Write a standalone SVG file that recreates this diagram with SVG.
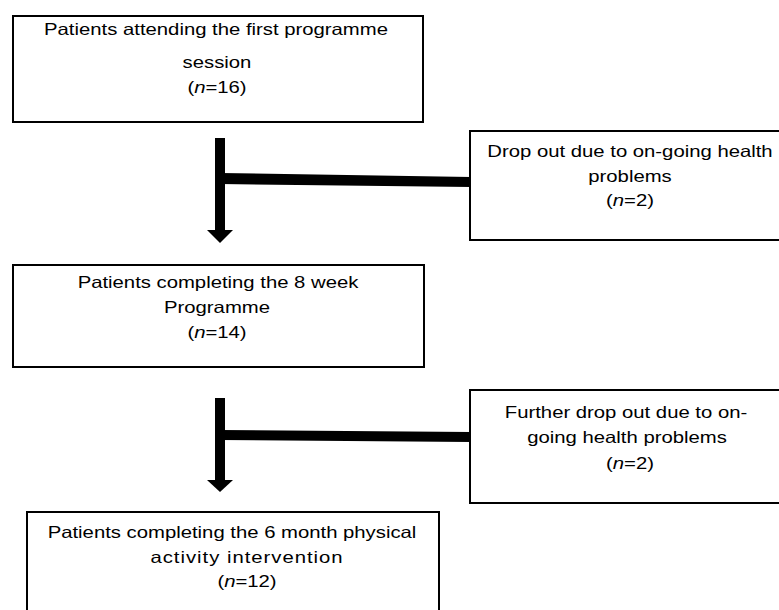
<svg xmlns="http://www.w3.org/2000/svg" width="779" height="610" viewBox="0 0 779 610">
<style>
.box{fill:#fff;stroke:#000;stroke-width:2}
.t{font-family:"Liberation Sans",Arial,sans-serif;font-size:16.5px;fill:#000;text-anchor:middle}
.bar{fill:#000}
</style>
<rect width="779" height="610" fill="#fff"/>
<g id="connectors">
<rect class="bar" x="215" y="138" width="10" height="93"/>
<polygon class="bar" points="207,230 233,230 220,243"/>
<polygon class="bar" points="220,173 471,177 471,187 220,184"/>
<rect class="bar" x="215" y="398" width="10" height="83"/>
<polygon class="bar" points="207,480 233,480 220,492"/>
<polygon class="bar" points="220,430 471,432 471,442 220,440"/>
</g>
<g id="n1">
<rect class="box" x="13" y="16" width="410" height="106"/>
<text class="t" transform="translate(216 35) scale(1.23 1)">Patients attending the first programme</text>
<text class="t" transform="translate(217 68) scale(1.23 1)">session</text>
<text class="t" transform="translate(217 93) scale(1.23 1)">(<tspan font-style="italic">n</tspan>=16)</text>
</g>
<g id="d1">
<rect class="box" x="470" y="131" width="330" height="109"/>
<text class="t" transform="translate(630 157) scale(1.23 1)">Drop out due to on-going health</text>
<text class="t" transform="translate(630 182) scale(1.23 1)">problems</text>
<text class="t" transform="translate(630 206) scale(1.23 1)">(<tspan font-style="italic">n</tspan>=2)</text>
</g>
<g id="n2">
<rect class="box" x="13" y="265" width="411" height="102"/>
<text class="t" transform="translate(218 288) scale(1.23 1)">Patients completing the 8 week</text>
<text class="t" transform="translate(217 313) scale(1.23 1)">Programme</text>
<text class="t" transform="translate(217 338) scale(1.23 1)">(<tspan font-style="italic">n</tspan>=14)</text>
</g>
<g id="d2">
<rect class="box" x="470" y="390" width="330" height="113"/>
<text class="t" transform="translate(626 418) scale(1.23 1)">Further drop out due to on-</text>
<text class="t" transform="translate(627 443) scale(1.23 1)">going health problems</text>
<text class="t" transform="translate(630 469) scale(1.23 1)">(<tspan font-style="italic">n</tspan>=2)</text>
</g>
<g id="n3">
<rect class="box" x="27" y="512" width="412" height="120"/>
<text class="t" transform="translate(232 538) scale(1.23 1)">Patients completing the 6 month physical</text>
<text class="t" transform="translate(247 563) scale(1.23 1)" letter-spacing="0.8">activity intervention</text>
<text class="t" transform="translate(247 587) scale(1.23 1)">(<tspan font-style="italic">n</tspan>=12)</text>
</g>
</svg>
